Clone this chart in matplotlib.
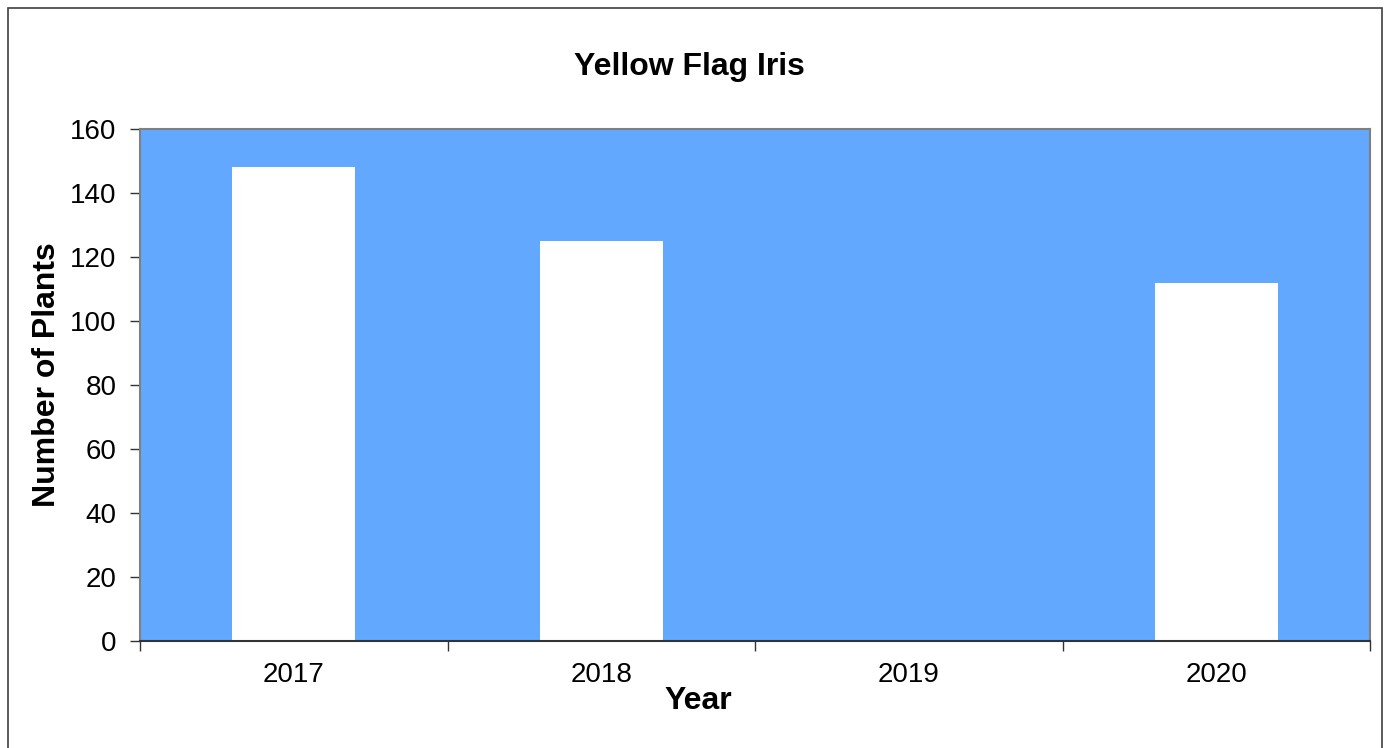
import matplotlib.pyplot as plt
import numpy as np

# data
years = ['2017', '2018', '2019', '2020']
plants = [148, 125, 0, 112]

plt.rcParams['font.family'] = ['Liberation Sans', 'DejaVu Sans']

W, H = 1391, 748
fig = plt.figure(figsize=(W/100, H/100), dpi=100)
ax = fig.add_axes([140/W, 1-641/H, 1230/W, 512/H])

# outer frame of the chart
fig.patches.append(plt.Rectangle((8/W, -0.01), 1374/W, 1-8/H+0.01,
                                 transform=fig.transFigure, fill=False,
                                 edgecolor='#404040', linewidth=1.2))

x = np.arange(len(years))
ax.set_facecolor('#62A8FF')
ax.bar(x, plants, width=0.4, color='white', edgecolor='none', zorder=2)

ax.set_xlim(-0.5, len(years) - 0.5)
ax.set_ylim(0, 160)
ax.set_yticks(np.arange(0, 161, 20))

# ticks on category borders, labels at the centres
ax.set_xticks(np.arange(-0.5, len(years), 1.0))
ax.set_xticklabels([])
ax.set_xticks(x, minor=True)
ax.set_xticklabels(years, minor=True)
ax.tick_params(axis='x', which='major', length=7, width=1, color='#333333')
ax.tick_params(axis='x', which='minor', length=0, labelsize=20, pad=15)
ax.tick_params(axis='y', length=7, width=1, labelsize=20, pad=10, color='#333333')

for side in ['top', 'right', 'left']:
    ax.spines[side].set_color('#808080')
    ax.spines[side].set_linewidth(1.5)
ax.spines['bottom'].set_color('#333333')
ax.spines['bottom'].set_linewidth(1.5)

fig.text(689/W, 1-67/H, 'Yellow Flag Iris', fontsize=23, fontweight='bold',
         ha='center', va='center')
fig.text(698/W, 1-701/H, 'Year', fontsize=23, fontweight='bold',
         ha='center', va='center')
fig.text(47/W, 1-375/H, 'Number of Plants', fontsize=23, fontweight='bold',
         ha='center', va='center', rotation=90)

fig.savefig('out.png', dpi=100)
